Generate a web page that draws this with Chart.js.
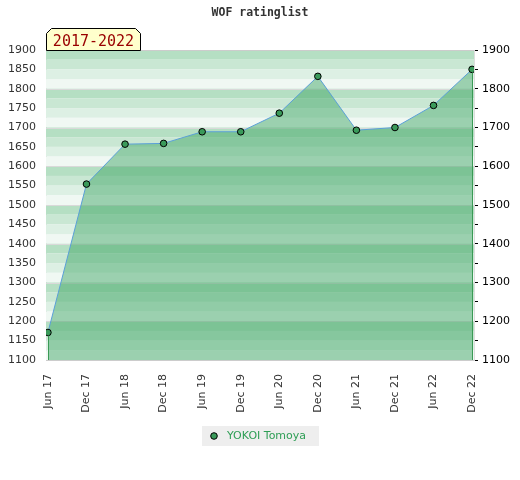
<!DOCTYPE html>
<html>
<head>
<meta charset="utf-8">
<script src="https://cdn.jsdelivr.net/npm/chart.js@4"></script>
<style>
  html, body { margin: 0; padding: 0; background: #fff; }
  #wrap { width: 520px; height: 480px; }
</style>
</head>
<body>
<div id="wrap"><canvas id="rating_chart" width="520" height="480"></canvas></div>
<script>
// values
var periods = ['Jun 17', 'Dec 17', 'Jun 18', 'Dec 18', 'Jun 19', 'Dec 19',
               'Jun 20', 'Dec 20', 'Jun 21', 'Dec 21', 'Jun 22', 'Dec 22'];
var ratings = [1171, 1554, 1657, 1659, 1689, 1689, 1737, 1832, 1693, 1700, 1757, 1850];
var playerName = 'YOKOI Tomoya';
var chartTitle = 'WOF ratinglist';
var tabText = '2017-2022';
var yMin = 1100, yMax = 1900;

var bandColors = ['#b5dfc3', '#c9e7d3', '#ddf0e4', '#f0f8f3'];

var points = ratings.map(function (v, i) { return { x: i, y: v }; });

var decorations = {
  id: 'decorations',
  beforeDatasetsDraw: function (chart) {
    var ctx = chart.ctx, a = chart.chartArea, y = chart.scales.y;
    ctx.save();
    // striped background, 4 bands per 100 points
    for (var v = yMax; v > yMin; v -= 25) {
      var band = ((yMax - v) / 25) % 4;
      var top = y.getPixelForValue(v), bot = y.getPixelForValue(v - 25);
      ctx.fillStyle = bandColors[band];
      ctx.fillRect(a.left, top, a.right - a.left, bot - top);
    }
    ctx.strokeStyle = '#d9d9d9';
    ctx.lineWidth = 1;
    for (var g = yMin + 100; g < yMax; g += 100) {
      var py = Math.round(y.getPixelForValue(g)) + 0.5;
      ctx.beginPath(); ctx.moveTo(a.left, py); ctx.lineTo(a.right, py); ctx.stroke();
    }
    ctx.restore();
  },
  afterDatasetsDraw: function (chart) {
    var ctx = chart.ctx, a = chart.chartArea, y = chart.scales.y, x = chart.scales.x;
    ctx.save();
    // fill edges at the first and last point
    ctx.strokeStyle = '#3a9a55';
    ctx.lineWidth = 1;
    [0, ratings.length - 1].forEach(function (i) {
      var px = Math.round(x.getPixelForValue(i)) + 0.5;
      ctx.beginPath();
      ctx.moveTo(px, y.getPixelForValue(ratings[i]) + 3);
      ctx.lineTo(px, a.bottom);
      ctx.stroke();
    });
    // top border
    ctx.strokeStyle = '#cccccc';
    ctx.beginPath(); ctx.moveTo(a.left, a.top + 0.5); ctx.lineTo(a.right, a.top + 0.5); ctx.stroke();
    ctx.restore();
  },
  afterDraw: function (chart) {
    var ctx = chart.ctx, a = chart.chartArea;
    ctx.save();
    // title
    ctx.fillStyle = '#333';
    ctx.font = 'bold 11.5px "DejaVu Sans Mono"';
    ctx.textAlign = 'center';
    ctx.textBaseline = 'middle';
    ctx.fillText(chartTitle, 260, 13);
    // tab with the period
    var l = a.left + 0.5, r = 140.5, t = 28.5, b = a.top + 0.5;
    ctx.beginPath();
    ctx.moveTo(l, b); ctx.lineTo(l, t + 5); ctx.lineTo(l + 5, t);
    ctx.lineTo(r - 5, t); ctx.lineTo(r, t + 5); ctx.lineTo(r, b);
    ctx.closePath();
    ctx.fillStyle = '#ffffcc';
    ctx.fill();
    ctx.strokeStyle = '#000';
    ctx.lineWidth = 1;
    ctx.stroke();
    ctx.fillStyle = '#990000';
    ctx.font = '15px "DejaVu Sans Mono"';
    ctx.textAlign = 'center';
    ctx.textBaseline = 'alphabetic';
    ctx.fillText(tabText, (l + r) / 2, 46);
    // legend
    ctx.fillStyle = '#eeeeee';
    ctx.fillRect(202, 426, 117, 20);
    ctx.beginPath();
    ctx.arc(214, 436, 3.3, 0, Math.PI * 2);
    ctx.fillStyle = '#3a9a5a';
    ctx.fill();
    ctx.strokeStyle = '#000';
    ctx.stroke();
    ctx.fillStyle = '#2e9e55';
    ctx.font = '11px "DejaVu Sans"';
    ctx.textAlign = 'left';
    ctx.textBaseline = 'middle';
    ctx.fillText(playerName, 227, 436.5);
    ctx.restore();
  }
};

var ctx = document.getElementById('rating_chart').getContext('2d');
var chartInstance = new Chart(ctx, {
  type: 'line',
  data: {
    datasets: [{
      label: playerName,
      data: points,
      borderColor: '#5ba0d8',
      borderWidth: 1,
      backgroundColor: 'rgba(61,165,99,0.475)',
      fill: 'start',
      tension: 0,
      pointRadius: 3.3,
      pointBackgroundColor: '#3a9a5a',
      pointBorderColor: '#000',
      pointBorderWidth: 1
    }]
  },
  options: {
    responsive: false,
    animation: false,
    devicePixelRatio: 1,
    layout: { padding: { top: 50, left: 0, right: 0, bottom: 0 } },
    plugins: { legend: { display: false }, tooltip: { enabled: false } },
    scales: {
      x: {
        type: 'linear',
        min: -0.05,
        max: ratings.length - 1 + 0.05,
        afterBuildTicks: function (axis) {
          axis.ticks = periods.map(function (p, i) { return { value: i }; });
        },
        afterFit: function (axis) { axis.height = 120; },
        grid: { display: false },
        border: { color: '#cccccc' },
        ticks: {
          minRotation: 90,
          maxRotation: 90,
          padding: 6,
          color: '#333',
          font: { family: 'DejaVu Sans', size: 11 },
          callback: function (v) { return periods[v]; }
        }
      },
      y: {
        position: 'left',
        min: yMin,
        max: yMax,
        afterFit: function (axis) { axis.width = 46; },
        grid: { display: false },
        border: { color: '#cccccc' },
        ticks: {
          stepSize: 50,
          padding: 2,
          color: '#333',
          font: { family: 'DejaVu Sans', size: 11 },
          callback: function (v) { return String(v); }
        }
      },
      y2: {
        position: 'right',
        min: yMin,
        max: yMax,
        afterFit: function (axis) { axis.width = 46; },
        grid: { drawOnChartArea: false, drawTicks: true, tickLength: 4, color: '#000' },
        border: { color: '#dddddd' },
        ticks: {
          stepSize: 50,
          padding: 4,
          color: '#000',
          font: { family: 'DejaVu Sans', size: 11 },
          callback: function (v) { return v % 100 === 0 ? String(v) : ''; }
        }
      }
    }
  },
  plugins: [decorations]
});
</script>
</body>
</html>
